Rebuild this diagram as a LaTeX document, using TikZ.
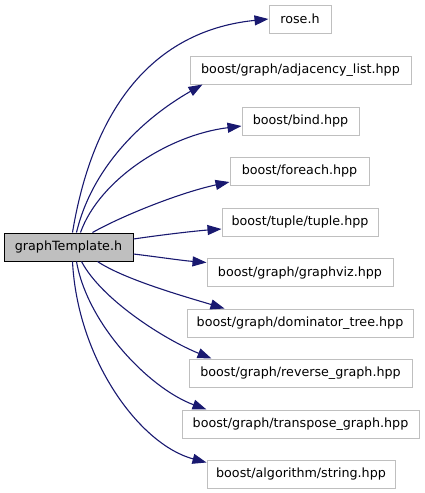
\documentclass[tikz,border=0pt]{standalone}
\usepackage{fontspec}
\setmainfont{DejaVu Sans}
\usetikzlibrary{arrows.meta}
\definecolor{edgeblue}{HTML}{191970}
\definecolor{boxgrey}{HTML}{BFBFBF}
\begin{document}
\begin{tikzpicture}[x=1pt,y=-1pt,
  base/.style={rectangle, minimum height=28pt, inner sep=0pt, line width=1pt,
    font=\fontsize{12.7}{15}\selectfont},
  srcbox/.style={base, draw=black, fill=boxgrey},
  dstbox/.style={base, draw=boxgrey, fill=white},
  edge/.style={draw=edgeblue, line width=1.1pt, -{Triangle[length=14pt,width=10pt]}}]
\useasboundingbox (0,0) rectangle (424,493);
\node[srcbox, minimum width=129pt] (g) at (68.5,247) {graphTemplate.h};
\node[dstbox, minimum width=62pt]  (rose) at (300,19) {rose.h};
\node[dstbox, minimum width=221pt] (adj) at (300.5,70) {boost/graph/adjacency\_list.hpp};
\node[dstbox, minimum width=117pt] (bind) at (300.5,121) {boost/bind.hpp};
\node[dstbox, minimum width=139pt] (fe) at (299.5,171) {boost/foreach.hpp};
\node[dstbox, minimum width=156pt] (tup) at (300,222) {boost/tuple/tuple.hpp};
\node[dstbox, minimum width=186pt] (gv) at (300,272.5) {boost/graph/graphviz.hpp};
\node[dstbox, minimum width=226pt] (dom) at (300,323) {boost/graph/dominator\_tree.hpp};
\node[dstbox, minimum width=223pt] (rev) at (300.5,373) {boost/graph/reverse\_graph.hpp};
\node[dstbox, minimum width=237pt] (tr) at (300.5,424) {boost/graph/transpose\_graph.hpp};
\node[dstbox, minimum width=188pt] (str) at (301,474) {boost/algorithm/string.hpp};
\draw[edge] ([xshift=69pt]g.north west) .. controls +(22,-133) and +(-109,11) .. (rose.west);
\draw[edge] ([xshift=73pt]g.north west) .. controls +(15,-63) and +(-63,36) .. ([xshift=13pt]adj.south west);
\draw[edge] ([xshift=77pt]g.north west) .. controls +(19,-53) and +(-73,9) .. ([yshift=-5pt]bind.west);
\draw[edge] ([xshift=89pt]g.north west) .. controls +(32,-18) and +(-47,10) .. ([yshift=-11pt]fe.west);
\draw[edge] ([yshift=8pt]g.east) .. controls +(27,-4) and +(-27,2) .. ([yshift=-7pt]tup.west);
\draw[edge] ([yshift=-7pt]g.east) .. controls +(25,3) and +(-25,-2) .. ([yshift=10pt]gv.west);
\draw[edge] ([xshift=94pt]g.south west) .. controls +(27,18) and +(-40,-12) .. ([xshift=38pt]dom.north west);
\draw[edge] ([xshift=78pt]g.south west) .. controls +(20,38) and +(-47,-19) .. ([xshift=23pt]rev.north west);
\draw[edge] ([xshift=73pt]g.south west) .. controls +(11,63) and +(-57,-21) .. ([xshift=25pt]tr.north west);
\draw[edge] ([xshift=69pt]g.south west) .. controls +(5,98) and +(-67,-18) .. ([yshift=-3pt]str.north west);
\end{tikzpicture}
\end{document}
